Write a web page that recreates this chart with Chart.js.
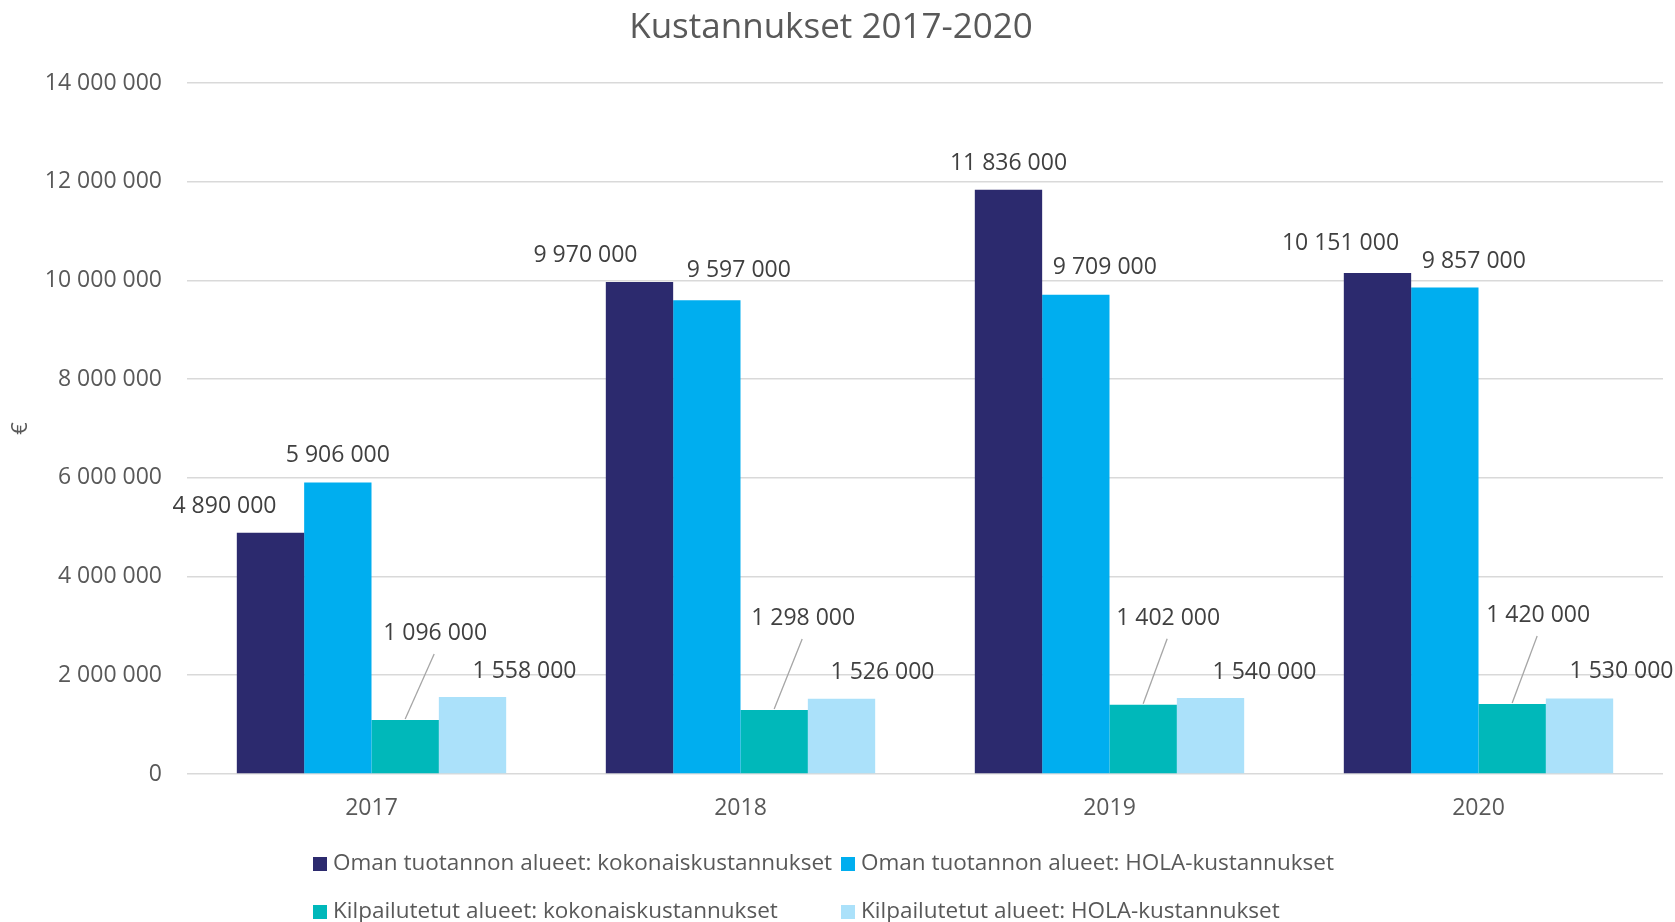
<!DOCTYPE html>
<html>
<head>
<meta charset="utf-8">
<script src="https://cdn.jsdelivr.net/npm/chart.js@4/dist/chart.umd.min.js"></script>
<style>
html,body{margin:0;padding:0;background:#fff;}
#wrap{width:1675px;height:922px;}
</style>
</head>
<body>
<div id="wrap"><canvas id="c" width="1675" height="922"></canvas></div>
<script>
const chartTitle = "Kustannukset 2017-2020";
const yAxisTitle = "€";
const categories = ["2017", "2018", "2019", "2020"];
const seriesNames = [
  "Oman tuotannon alueet: kokonaiskustannukset",
  "Oman tuotannon alueet: HOLA-kustannukset",
  "Kilpailutetut alueet: kokonaiskustannukset",
  "Kilpailutetut alueet: HOLA-kustannukset"
];
const omaKokonais = [4890000, 9970000, 11836000, 10151000];
const omaHola = [5906000, 9597000, 9709000, 9857000];
const kilpKokonais = [1096000, 1298000, 1402000, 1420000];
const kilpHola = [1558000, 1526000, 1540000, 1530000];
const yTicks = [0, 2000000, 4000000, 6000000, 8000000, 10000000, 12000000, 14000000];

// styling
const colors = ["#2C2A6E", "#00AEEF", "#00B8BA", "#ABE1FA"];
// label placement relative to bar top-center (dx, dy) per series / category
const labelShift = [
  [[-46,-26],[-54,-26],[0,-26],[-37,-30]],
  [[0,-27],[32,-30],[29,-27],[29,-26]],
  [[30,-86],[29,-91],[25,-86],[26,-88]],
  [[52,-26],[41,-26],[54,-26],[42,-27]]
];
const leaderSeries = 2;
const FONT = "'Open Sans', 'Noto Sans', sans-serif";

function fmt(v){
  return String(Math.round(v)).replace(/\B(?=(\d{3})+(?!\d))/g, " ");
}

const seriesData = [omaKokonais, omaHola, kilpKokonais, kilpHola];

const customPlugin = {
  id: 'custom',
  afterDatasetsDraw(chart){
    const ctx = chart.ctx;
    ctx.save();
    ctx.font = "23px " + FONT;
    ctx.fillStyle = "#404040";
    ctx.textAlign = "center";
    ctx.textBaseline = "middle";
    chart.data.datasets.forEach((ds, di) => {
      const meta = chart.getDatasetMeta(di);
      meta.data.forEach((bar, i) => {
        const [dx, dy] = labelShift[di][i];
        const lx = bar.x + dx, ly = bar.y + dy;
        if (di === leaderSeries) {
          ctx.strokeStyle = "#A6A6A6";
          ctx.lineWidth = 1.3;
          ctx.beginPath();
          ctx.moveTo(lx - 1, ly + 20);
          ctx.lineTo(bar.x, bar.y - 1);
          ctx.stroke();
        }
        ctx.fillText(fmt(ds.data[i]), lx, ly);
      });
    });
    // title
    ctx.font = "35px " + FONT;
    ctx.fillStyle = "#595959";
    ctx.fillText(chartTitle, 831, 28);
    // legend
    ctx.font = "22.5px " + FONT;
    ctx.textAlign = "left";
    const cols = [313, 841];
    const rows = [864, 912];
    chart.data.datasets.forEach((ds, di) => {
      const x = cols[di % 2], y = rows[Math.floor(di / 2)];
      ctx.fillStyle = ds.backgroundColor;
      ctx.fillRect(x, y - 7, 14, 14);
      ctx.fillStyle = "#595959";
      ctx.fillText(ds.label, x + 20, y);
    });
    ctx.restore();
  }
};

new Chart(document.getElementById('c'), {
  type: 'bar',
  data: {
    labels: categories,
    datasets: seriesData.map((d, i) => ({
      label: seriesNames[i],
      data: d,
      backgroundColor: colors[i],
      borderWidth: 0,
      categoryPercentage: 0.73,
      barPercentage: 1.0
    }))
  },
  options: {
    responsive: false,
    animation: false,
    layout: { padding: { top: 83, right: 12, bottom: 98, left: 0 } },
    plugins: {
      legend: { display: false },
      title: { display: false },
      tooltip: { enabled: false }
    },
    scales: {
      x: {
        grid: { display: false, drawTicks: false },
        border: { display: false },
        ticks: { color: "#595959", font: { size: 23, family: FONT }, padding: 21 },
        afterFit(scale){ scale.height = 50; }
      },
      y: {
        min: 0,
        max: 14000000,
        afterBuildTicks(scale){ scale.ticks = yTicks.map(v => ({ value: v })); },
        grid: { color: "#D9D9D9", lineWidth: 1.6, drawTicks: false },
        border: { display: false },
        ticks: {
          color: "#595959",
          font: { size: 23, family: FONT },
          padding: 25,
          callback: v => fmt(v)
        },
        title: {
          display: true,
          text: yAxisTitle,
          color: "#595959",
          font: { size: 22, family: FONT },
          padding: { top: 8, bottom: 0 }
        },
        afterFit(scale){ scale.width = 187; }
      }
    }
  },
  plugins: [customPlugin]
});
</script>
</body>
</html>
